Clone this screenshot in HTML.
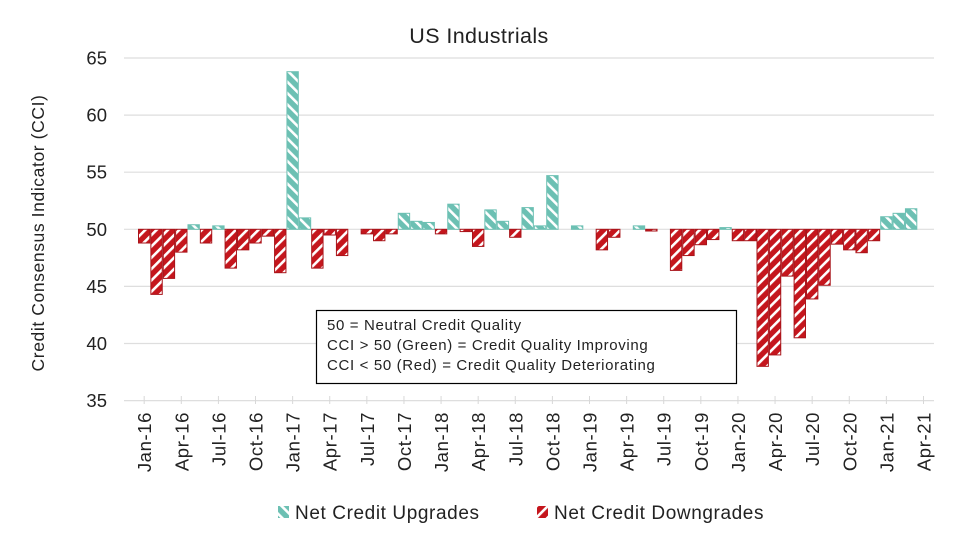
<!DOCTYPE html>
<html><head><meta charset="utf-8"><style>
body{margin:0;background:#fff;}
svg text{font-family:"Liberation Sans",Arial,sans-serif;fill:#222;}
</style></head><body>
<svg id="chart" width="971" height="547" viewBox="0 0 971 547" xmlns="http://www.w3.org/2000/svg">
<defs>
<pattern id="up" patternUnits="userSpaceOnUse" width="8" height="8" patternTransform="rotate(-45)">
<rect width="8" height="8" fill="#6cc0b3"/><rect x="0" y="0" width="2.6" height="8" fill="#fff"/></pattern>
<pattern id="down" patternUnits="userSpaceOnUse" width="8" height="8" patternTransform="rotate(45)">
<rect width="8" height="8" fill="#c5161d"/><rect x="0" y="0" width="2.6" height="8" fill="#fff"/></pattern>
</defs>
<text x="479" y="43" font-size="21.5" letter-spacing="0.4" text-anchor="middle">US Industrials</text>
<text transform="translate(44,233) rotate(-90)" font-size="17.5" letter-spacing="0.6" text-anchor="middle">Credit Consensus Indicator (CCI)</text>
<g id="grid"></g><g id="bars"></g><g id="xaxis"></g>
<g>
<rect x="316.5" y="310.5" width="420" height="73" fill="#fff" stroke="#000" stroke-width="1.2"/>
<text x="327" y="330" font-size="15" letter-spacing="0.65">50 = Neutral Credit Quality</text>
<text x="327" y="350" font-size="15" letter-spacing="0.65">CCI &gt; 50 (Green) = Credit Quality Improving</text>
<text x="327" y="370" font-size="15" letter-spacing="0.65">CCI &lt; 50 (Red) = Credit Quality Deteriorating</text>
</g>
<g>
<g><rect x="278" y="506" width="11" height="12" fill="url(#up)"/><text x="295" y="519" font-size="19" letter-spacing="0.6">Net Credit Upgrades</text></g>
<g><rect x="537" y="506" width="11" height="12" fill="url(#down)"/><text x="554" y="519" font-size="19" letter-spacing="0.6">Net Credit Downgrades</text></g>
</g>
</svg>
<script>
const months = ["Jan","Feb","Mar","Apr","May","Jun","Jul","Aug","Sep","Oct","Nov","Dec"];
const categories = [];
for (let y=16;y<=21;y++) for (let m=0;m<12;m++) if (!(y===21&&m>3)) categories.push(months[m]+"-"+y);
const values = [48.8,44.3,45.7,48.0,50.4,48.8,50.3,46.6,48.2,48.8,49.4,46.2,
63.8,51.0,46.6,49.5,47.7,null,49.6,49.0,49.6,51.4,50.7,50.6,
49.6,52.2,49.8,48.5,51.7,50.7,49.3,51.9,50.3,54.7,null,50.3,
null,48.2,49.3,null,50.3,49.85,null,46.4,47.7,48.65,49.1,50.15,
49.0,49.0,38.0,39.0,45.9,40.5,43.9,45.1,48.7,48.2,47.95,49.0,
51.1,51.4,51.8,null];
const yTicks = [35,40,45,50,55,60,65];
const NS="http://www.w3.org/2000/svg";
const x0=138, bw=12.37, yAt50=229.3, pu=11.42;
const xPos = i => x0 + i*bw;
const yPos = v => yAt50 - (v-50)*pu;
function mk(tag, attrs, parent){const e=document.createElementNS(NS,tag);for(const k in attrs)e.setAttribute(k,attrs[k]);parent.appendChild(e);return e;}
const grid=document.getElementById('grid'), bars=document.getElementById('bars'), xa=document.getElementById('xaxis');
yTicks.forEach(t=>{
  const l=mk('line',{x1:124,x2:934,y1:yPos(t),y2:yPos(t),stroke:'#dedede','stroke-width':1.2},grid);
  
  
  const tx=mk('text',{x:107,y:yPos(t)+6.5,'font-size':18.5,'text-anchor':'end'},grid);
  tx.textContent=t;
  
  
});
values.forEach((v,i)=>{
  if(v===null) return;
  const up=v>=50;
  const y1=yPos(Math.max(v,50)), y2=yPos(Math.min(v,50));
  const r=mk('rect',{x:xPos(i)+0.5,y:y1,width:bw-1,height:Math.max(y2-y1,1.2),fill:up?'url(#up)':'url(#down)',stroke:up?'#6cc0b3':'#a8141a','stroke-width':1},bars);
  
  
});
categories.forEach((c,i)=>{
  if(i%3) return;
  const cx=xPos(i)+bw/2;
  const tk=mk('line',{x1:cx,x2:cx,y1:396,y2:404,stroke:'#d8d8d8','stroke-width':1},xa);
  
  
  const t=mk('text',{transform:`translate(${cx+7},412) rotate(-90)`,'font-size':18.5,'letter-spacing':0.6,'text-anchor':'end'},xa);
  t.textContent=c;
  
  
});
</script>
</body></html>
